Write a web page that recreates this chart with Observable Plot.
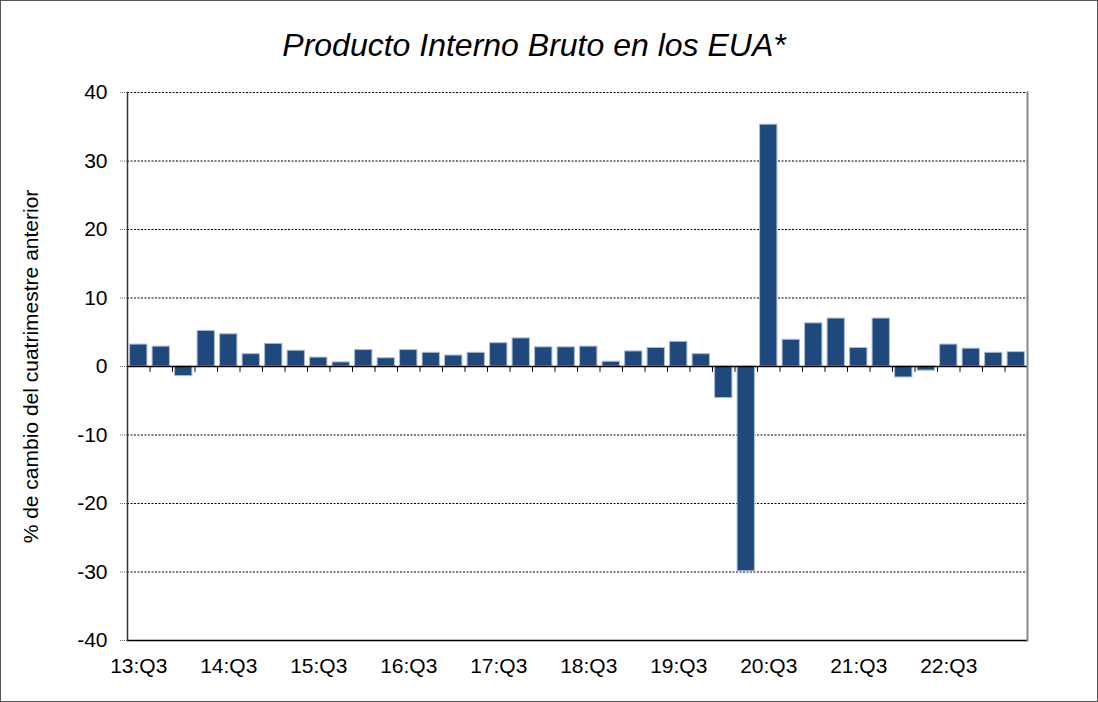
<!DOCTYPE html>
<html>
<head>
<meta charset="utf-8">
<script src="https://cdn.jsdelivr.net/npm/d3@7"></script>
<script src="https://cdn.jsdelivr.net/npm/@observablehq/plot@0.6"></script>
<style>
  html, body { margin: 0; padding: 0; background: #fff; }
  #wrap { position: relative; width: 1098px; height: 702px; overflow: hidden; font-family: "Liberation Sans", Arial, sans-serif; }
  #border { position: absolute; left: 0; top: 0; width: 1098px; height: 702px; box-sizing: border-box; border: 1px solid #555; pointer-events: none; }
  #title { position: absolute; left: 0; top: 29px; width: 1068px; text-align: center; font-size: 32px; line-height: 32px; font-style: italic; color: #000; }
  #chart { position: absolute; left: 0; top: 70px; }
</style>
</head>
<body>
<div id="wrap">
  <div id="title">Producto Interno Bruto en los EUA*</div>
  <div id="chart"></div>
  <div id="border"></div>
</div>
<script>
const quarters = [
  "13:Q3","13:Q4","14:Q1","14:Q2","14:Q3","14:Q4","15:Q1","15:Q2",
  "15:Q3","15:Q4","16:Q1","16:Q2","16:Q3","16:Q4","17:Q1","17:Q2",
  "17:Q3","17:Q4","18:Q1","18:Q2","18:Q3","18:Q4","19:Q1","19:Q2",
  "19:Q3","19:Q4","20:Q1","20:Q2","20:Q3","20:Q4","21:Q1","21:Q2",
  "21:Q3","21:Q4","22:Q1","22:Q2","22:Q3","22:Q4","23:Q1","23:Q2"
];
const growth = [
  3.2, 2.9, -1.4, 5.2, 4.7, 1.8, 3.3, 2.3,
  1.3, 0.6, 2.4, 1.2, 2.4, 2.0, 1.6, 2.0,
  3.4, 4.1, 2.8, 2.8, 2.9, 0.7, 2.2, 2.7,
  3.6, 1.8, -4.6, -29.9, 35.3, 3.9, 6.3, 7.0,
  2.7, 7.0, -1.6, -0.6, 3.2, 2.6, 2.0, 2.1
];
const xTickLabels = ["13:Q3","14:Q3","15:Q3","16:Q3","17:Q3","18:Q3","19:Q3","20:Q3","21:Q3","22:Q3"];
const yTicks = [-40, -30, -20, -10, 0, 10, 20, 30, 40];
const yLabel = "% de cambio del cuatrimestre anterior";

const data = quarters.map((q, i) => ({q, v: growth[i]}));

const W = 1098, H = 632;
const mL = 127, mR = 71, mT = 22, mB = 62;
const step = (W - mL - mR) / quarters.length;

const chart = Plot.plot({
  width: W,
  height: H,
  marginLeft: mL,
  marginRight: mR,
  marginTop: mT,
  marginBottom: mB,
  style: { fontFamily: '"Liberation Sans", Arial, sans-serif', fontSize: "21px", color: "#000", background: "#fff" },
  x: { type: "band", domain: quarters, paddingInner: 0.23, paddingOuter: 0.115, round: false },
  y: { domain: [-40, 40] },
  marks: [
    Plot.gridY(yTicks.filter(d => d !== 0 && d !== -40), { stroke: "#000", strokeOpacity: 1, strokeDasharray: "2,1.5" }),
    Plot.barY(data, { x: "q", y: "v", fill: "#1f497d", stroke: "#a9bcd6", strokeWidth: 1 }),
    Plot.ruleY([0], { stroke: "#000", strokeWidth: 1.5 }),
    Plot.ruleX(quarters, { x: d => d, y1: 0, y2: -0.85, dx: step / 2, stroke: "#000" }),
    Plot.ruleY([-40], { stroke: "#000", strokeWidth: 1.5 }),
    Plot.frame({ anchor: "left", stroke: "#333", strokeWidth: 1.5 }),
    Plot.frame({ anchor: "right", stroke: "#888", strokeWidth: 2 }),
    Plot.axisY({ ticks: yTicks, tickFormat: d => String(d), tickSize: 7, tickPadding: 13, stroke: "#666", strokeDasharray: "1,1", label: yLabel, labelAnchor: "center", labelArrow: "none", labelOffset: 104, fontSize: 21 }),
    Plot.axisX({ ticks: xTickLabels, tickSize: 0, tickPadding: 18, label: null, fontSize: 21 })
  ]
});
document.getElementById("chart").appendChild(chart);
</script>
</body>
</html>
